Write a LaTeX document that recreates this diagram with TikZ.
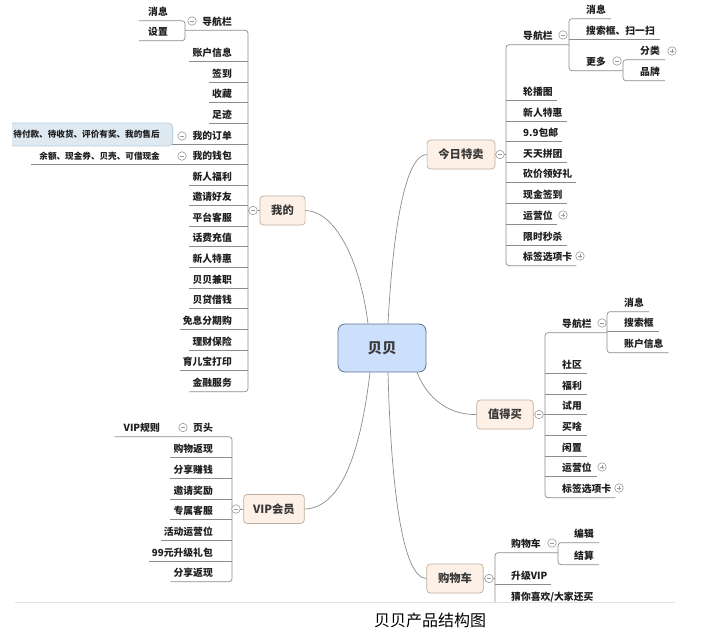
\documentclass[tikz,border=0pt]{standalone}
\usepackage{fontspec}
\newfontfamily\cjk{Noto Sans CJK SC}
\usetikzlibrary{calc}
\definecolor{linegray}{HTML}{8C8C8C}
\definecolor{catfill}{HTML}{FDF1E7}
\definecolor{catborder}{HTML}{BFAE9F}
\definecolor{hubfill}{HTML}{CDE0FB}
\definecolor{hubborder}{HTML}{5F7396}
\definecolor{selfill}{HTML}{DFE9F2}
\definecolor{selborder}{HTML}{B9CFE2}
\definecolor{tglgray}{HTML}{9A9A9A}
\definecolor{sepgray}{HTML}{E2E2E2}
\definecolor{txt}{HTML}{1E1E1E}
\definecolor{cattxt}{HTML}{383838}
\newcommand\itemfont{\cjk\bfseries\fontsize{9.8}{11}\selectfont}
\newcommand\subfont{\cjk\bfseries\fontsize{8.6}{10}\selectfont}
\newcommand\catfont{\cjk\bfseries\fontsize{11.3}{13}\selectfont}
\newcommand\hubfont{\cjk\bfseries\fontsize{14.5}{17}\selectfont}
\newcommand\ttlfont{\cjk\fontsize{16}{19}\selectfont}
\begin{document}
\begin{tikzpicture}[x=1pt,y=-1pt,
 ln/.style={draw=linegray, line width=0.7pt},
 itm/.style={font=\itemfont, text=txt, inner xsep=0pt, inner ysep=0pt, minimum height=17pt},
 ritm/.style={itm, anchor=west},
 litm/.style={itm, anchor=east},
 cat/.style={draw=catborder, fill=catfill, rounded corners=3.5pt, font=\catfont, text=cattxt, inner xsep=11.3pt, inner ysep=0pt, minimum height=29pt, line width=0.7pt},
 hub/.style={draw=hubborder, fill=hubfill, rounded corners=7pt, font=\hubfont, text=cattxt, minimum width=88pt, minimum height=48pt, line width=0.8pt},
 selbox/.style={draw=selborder, fill=selfill, rounded corners=4pt, font=\subfont, text=txt, inner xsep=13pt, inner ysep=0pt, minimum height=23pt, line width=0.8pt},
 tgl/.style={circle, draw=tglgray, fill=white, minimum size=8.5pt, inner sep=0pt, line width=0.6pt,
   path picture={\draw[tglgray, line width=0.6pt] ([xshift=-2.2pt]path picture bounding box.center) -- ([xshift=2.2pt]path picture bounding box.center);}},
 tglp/.style={circle, draw=tglgray, fill=white, minimum size=8.5pt, inner sep=0pt, line width=0.6pt,
   path picture={\draw[tglgray, line width=0.6pt] ([xshift=-2.2pt]path picture bounding box.center) -- ([xshift=2.2pt]path picture bounding box.center) ([yshift=-2.2pt]path picture bounding box.center) -- ([yshift=2.2pt]path picture bounding box.center);}},
]
\useasboundingbox (0,0) rectangle (720,634);
\fill[white] (0,0) rectangle (720,634);
\begin{scope}
\clip (12,0) rectangle (720,601.5);
% hub and categories
\node[hub] (C) at (382,348) {贝贝};
\node[cat] (W) at (282.5,210.5) {我的};
\node[cat] (T) at (461,154.5) {今日特卖};
\node[cat] (Z) at (505,414.5) {值得买};
\node[cat, inner xsep=9.5pt] (V) at (274,509) {VIP会员};
\node[cat] (S) at (455,578.5) {购物车};
\draw[ln] ([xshift=-14pt]C.north) .. controls (360,260) and (335,211) .. (W.east);
\draw[ln] ([xshift=6pt]C.north) .. controls (393,230) and (405,155) .. (T.west);
\draw[ln] ([xshift=35pt]C.south) .. controls (428,400) and (450,415) .. (Z.west);
\draw[ln] ([xshift=-12pt]C.south) .. controls (362,440) and (345,508) .. (V.east);
\draw[ln] ([xshift=6pt]C.south) .. controls (391,485) and (402,578) .. (S.west);

% ---------- 我的 ----------
\coordinate (bW) at (248,210.5);
\coordinate (gW) at (185,30);
\node[litm] (w1) at (232,21.5) {导航栏};
\node[litm] (w2) at (232,53) {账户信息};
\node[litm] (w3) at (232,74) {签到};
\node[litm] (w4) at (232,94) {收藏};
\node[litm] (w5) at (232,115) {足迹};
\node[litm] (w6) at (232,136) {我的订单};
\node[litm] (w7) at (232,156) {我的钱包};
\node[litm] (w8) at (232,177) {新人福利};
\node[litm] (w9) at (232,197) {邀请好友};
\node[litm] (w10) at (232,218) {平台客服};
\node[litm] (w11) at (232,238) {话费充值};
\node[litm] (w12) at (232,259) {新人特惠};
\node[litm] (w13) at (232,280) {贝贝兼职};
\node[litm] (w14) at (232,300) {贝贷借钱};
\node[litm] (w15) at (232,321) {免息分期购};
\node[litm] (w16) at (232,342) {理财保险};
\node[litm] (w17) at (232,362) {育儿宝打印};
\node[litm] (w18) at (232,383) {金融服务};
\node[litm] (w1a) at (168,12) {消息};
\node[litm] (w1b) at (168,32) {设置};
\node[itm, font=\subfont, anchor=east] (w7c) at (160,156) {余额、现金券、贝壳、可借现金};
\draw[ln] (W.west) -- (bW);
\draw[ln, rounded corners=3pt] (gW |- w1.south) -- (bW |- w1.south) -- (bW |- w18.south) -- ([xshift=-3pt]w18.south west);
\foreach \n in {w2,w3,w4,w5,w8,w9,w10,w11,w12,w13,w14,w15,w16,w17}
  \draw[ln] (bW |- \n.south) -- ([xshift=-3pt]\n.south west);
\draw[ln] (bW |- w6.south) -- (150,0 |- w6.south);
\draw[ln] (bW |- w7.south) -- ([xshift=-8pt]w7c.south west);
\draw[ln, rounded corners=3pt] ([xshift=-9pt]w1a.south west) -- (gW |- w1a.south) -- (gW |- w1b.south) -- ([xshift=-9pt]w1b.south west);
\node[selbox, anchor=east] (w6c) at (173,134.5) {待付款、待收货、评价有奖、我的售后};
\node[tgl] (tW) at (253,210.5) {};
\node[tgl] (tw1) at (192,21) {};
\node[tgl] (tw6) at (182,136) {};
\node[tgl] (tw7) at (182,156) {};

% ---------- VIP会员 ----------
\coordinate (bV) at (232,509);
\node[litm] (v1) at (213,428) {页头};
\node[litm] (v2) at (213,449) {购物返现};
\node[litm] (v3) at (213,470) {分享赚钱};
\node[litm] (v4) at (213,491) {邀请奖励};
\node[litm] (v5) at (213,511) {专属客服};
\node[litm] (v6) at (213,532) {活动运营位};
\node[litm] (v7) at (213,553) {99元升级礼包};
\node[litm] (v8) at (213,573) {分享返现};
\node[litm] (v1c) at (160,428) {VIP规则};
\draw[ln] (V.west) -- (bV);
\draw[ln, rounded corners=3pt] ([xshift=-9pt]v1c.south west) -- (bV |- v1.south) -- (bV |- v8.south) -- ([xshift=-3pt]v8.south west);
\foreach \n in {v2,v3,v4,v5,v6,v7}
  \draw[ln] (bV |- \n.south) -- ([xshift=-3pt]\n.south west);
\node[tgl] (tV) at (236,509) {};
\node[tgl] (tv1) at (183,427.5) {};

% ---------- 今日特卖 ----------
\coordinate (bT) at (506,154.5);
\coordinate (gT) at (569,44);
\coordinate (gM) at (623,70);
\node[ritm] (t1) at (523,36) {导航栏};
\node[ritm] (t2) at (523,92) {轮播图};
\node[ritm] (t3) at (523,113) {新人特惠};
\node[ritm] (t4) at (523,133) {9.9包邮};
\node[ritm] (t5) at (523,154) {天天拼团};
\node[ritm] (t6) at (523,174) {砍价领好礼};
\node[ritm] (t7) at (523,195) {现金签到};
\node[ritm] (t8) at (523,216) {运营位};
\node[ritm] (t9) at (523,237) {限时秒杀};
\node[ritm] (t10) at (523,257) {标签选项卡};
\node[ritm] (t1a) at (586,10) {消息};
\node[ritm] (t1b) at (586,31) {搜索框、扫一扫};
\node[ritm] (t1c) at (586,62) {更多};
\node[ritm] (t1c1) at (640,51) {分类};
\node[ritm] (t1c2) at (640,72) {品牌};
\draw[ln] (T.east) -- (bT);
\draw[ln, rounded corners=3pt] (gT |- t1.south) -- (bT |- t1.south) -- (bT |- t10.south) -- ([xshift=4pt]t10.south east);
\foreach \n in {t2,t3,t4,t5,t6,t7,t8,t9}
  \draw[ln] (bT |- \n.south) -- ([xshift=4pt]\n.south east);
\draw[ln, rounded corners=3pt] ([xshift=5pt]t1a.south east) -- (gT |- t1a.south) -- (gT |- t1c.south) -- (gM |- t1c.south);
\draw[ln] (gT |- t1b.south) -- ([xshift=5pt]t1b.south east);
\draw[ln, rounded corners=3pt] ([xshift=5pt]t1c1.south east) -- (gM |- t1c1.south) -- (gM |- t1c2.south) -- ([xshift=5pt]t1c2.south east);
\node[tgl] (tT) at (500,154.5) {};
\node[tgl] (tt1) at (563,35) {};
\node[tgl] (tt1c) at (617,61) {};
\node[tglp] (pt1c1) at (672,51) {};
\node[tglp] (pt8) at (563,215) {};
\node[tglp] (pt10) at (580,256) {};

% ---------- 值得买 ----------
\coordinate (bZ) at (545,414.5);
\coordinate (gZ) at (607,332);
\node[ritm] (z1) at (562,324) {导航栏};
\node[ritm] (z2) at (562,365) {社区};
\node[ritm] (z3) at (562,386) {福利};
\node[ritm] (z4) at (562,406) {试用};
\node[ritm] (z5) at (562,427) {买啥};
\node[ritm] (z6) at (562,448) {闲置};
\node[ritm] (z7) at (562,468) {运营位};
\node[ritm] (z8) at (562,489) {标签选项卡};
\node[ritm] (z1a) at (624,303) {消息};
\node[ritm] (z1b) at (624,323) {搜索框};
\node[ritm] (z1c) at (624,344) {账户信息};
\draw[ln] (Z.east) -- (bZ);
\draw[ln, rounded corners=3pt] (gZ |- z1.south) -- (bZ |- z1.south) -- (bZ |- z8.south) -- ([xshift=4pt]z8.south east);
\foreach \n in {z2,z3,z4,z5,z6,z7}
  \draw[ln] (bZ |- \n.south) -- ([xshift=5pt]\n.south east);
\draw[ln, rounded corners=3pt] ([xshift=5pt]z1a.south east) -- (gZ |- z1a.south) -- (gZ |- z1c.south) -- ([xshift=5pt]z1c.south east);
\draw[ln] (gZ |- z1b.south) -- ([xshift=5pt]z1b.south east);
\node[tgl] (tZ) at (539,414.5) {};
\node[tgl] (tz1) at (602,323) {};
\node[tglp] (pz7) at (602,467) {};
\node[tglp] (pz8) at (619,488) {};

% ---------- 购物车 ----------
\coordinate (bS) at (495,578.5);
\coordinate (gS) at (558,553);
\node[ritm] (s1) at (511,544) {购物车};
\node[ritm] (s2) at (511,576) {升级VIP};
\node[ritm] (s3) at (511,597) {猜你喜欢/大家还买};
\node[ritm] (s1a) at (574,534) {编辑};
\node[ritm] (s1b) at (574,556) {结算};
\draw[ln] (S.east) -- (bS);
\draw[ln, rounded corners=3pt] (gS |- s1.south) -- (bS |- s1.south) -- (bS |- s3.south) -- ([xshift=4pt]s3.south east);
\draw[ln] (bS |- s2.south) -- ([xshift=4pt]s2.south east);
\draw[ln, rounded corners=3pt] ([xshift=5pt]s1a.south east) -- (gS |- s1a.south) -- (gS |- s1b.south) -- ([xshift=5pt]s1b.south east);
\node[tgl] (tS) at (489,578.5) {};
\node[tgl] (ts1) at (552,543) {};
\end{scope}
% separator and title
\draw[sepgray, line width=0.7pt] (15,602) -- (675,602);
\node[font=\ttlfont, text=black] (title) at (430,620) {贝贝产品结构图};
\end{tikzpicture}
\end{document}
